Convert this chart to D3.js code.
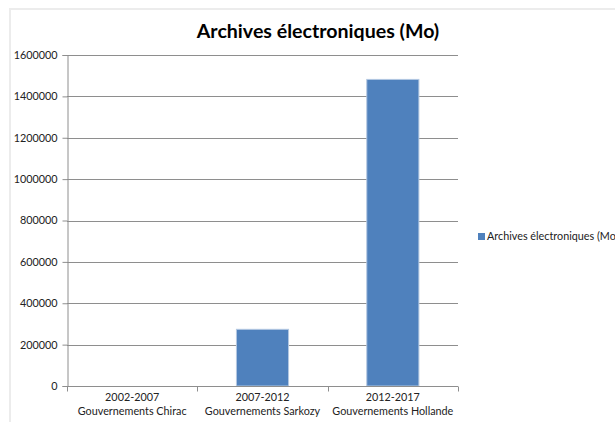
<!DOCTYPE html>
<html>
<head>
<meta charset="utf-8">
<script src="https://cdn.jsdelivr.net/npm/d3@7"></script>
<style>
  body { margin: 0; background: #fff; }
  svg { display: block; font-family: Lato, "Open Sans", sans-serif; }
</style>
</head>
<body>
<svg width="615" height="422"></svg>
<script>
// données
const periodes = ["2002-2007", "2007-2012", "2012-2017"];
const gouvernements = ["Gouvernements Chirac", "Gouvernements Sarkozy", "Gouvernements Hollande"];
const archives = [0, 274000, 1482000];
const yTicks = [0, 200000, 400000, 600000, 800000, 1000000, 1200000, 1400000, 1600000];
const serieNom = "Archives électroniques (Mo)";

const svg = d3.select("svg");
const fs = 10.8; // taille des petits textes

// cadre du graphique
svg.append("path")
  .attr("d", "M10,422 L10,9 L615,9")
  .attr("fill", "none")
  .attr("stroke", "#ececec")
  .attr("stroke-width", 2);

const plotL = 67, plotR = 458, plotT = 55, plotB = 386;

const x = d3.scaleBand().domain(periodes).range([plotL, plotR]).paddingInner(0).paddingOuter(0);
const y = d3.scaleLinear().domain([0, 1600000]).range([plotB, plotT]);

// titre
svg.append("text")
  .attr("x", 318).attr("y", 38)
  .attr("text-anchor", "middle")
  .attr("font-size", 19.6).attr("font-weight", "bold")
  .attr("fill", "#000")
  .text("Archives électroniques (Mo)");

// grille
svg.append("g").selectAll("line")
  .data(yTicks.filter(d => d > 0))
  .join("line")
  .attr("x1", plotL).attr("x2", plotR)
  .attr("y1", d => Math.round(y(d)) + 0.5).attr("y2", d => Math.round(y(d)) + 0.5)
  .attr("stroke", "#8e8e8e");

// axe y
const yAxis = svg.append("g")
  .attr("transform", `translate(${plotL + 0.5},0)`)
  .call(d3.axisLeft(y).tickValues(yTicks).tickSize(5).tickPadding(5).tickFormat(d3.format("d")));
yAxis.select(".domain").attr("stroke", "#8e8e8e");
yAxis.selectAll(".tick line").attr("stroke", "#8e8e8e");
yAxis.selectAll(".tick text").attr("font-size", fs).attr("fill", "#222").attr("font-family", "Lato, sans-serif");

// barres
const bw = x.bandwidth() * 0.4;
svg.append("g").selectAll("rect")
  .data(archives)
  .join("rect")
  .attr("x", (d, i) => x(periodes[i]) + (x.bandwidth() - bw) / 2)
  .attr("y", d => y(d))
  .attr("width", bw)
  .attr("height", d => y(0) - y(d))
  .attr("fill", "#4f81bd")
  .attr("stroke", d => d > 0 ? "#b3c8e2" : "none")
  .attr("stroke-width", 1);

// axe x
const xg = svg.append("g").attr("transform", `translate(0,${plotB + 0.5})`);
xg.append("line").attr("x1", plotL).attr("x2", plotR).attr("stroke", "#8e8e8e");
xg.selectAll(".tk")
  .data(d3.range(periodes.length + 1))
  .join("line")
  .attr("class", "tk")
  .attr("x1", i => Math.round(plotL + i * x.bandwidth()) + 0.5)
  .attr("x2", i => Math.round(plotL + i * x.bandwidth()) + 0.5)
  .attr("y1", 0).attr("y2", 5)
  .attr("stroke", "#8e8e8e");

const lab = svg.append("g").selectAll("text")
  .data(periodes)
  .join("text")
  .attr("text-anchor", "middle")
  .attr("font-size", fs)
  .attr("fill", "#222");
lab.append("tspan")
  .attr("x", d => x(d) + x.bandwidth() / 2).attr("y", 401)
  .text(d => d);
lab.append("tspan")
  .attr("x", d => x(d) + x.bandwidth() / 2).attr("y", 415)
  .text((d, i) => gouvernements[i]);

// légende
svg.append("rect")
  .attr("x", 478).attr("y", 233).attr("width", 7).attr("height", 7)
  .attr("fill", "#4f81bd");
svg.append("text")
  .attr("x", 487).attr("y", 240)
  .attr("font-size", fs).attr("fill", "#222")
  .text(serieNom);
</script>
</body>
</html>
